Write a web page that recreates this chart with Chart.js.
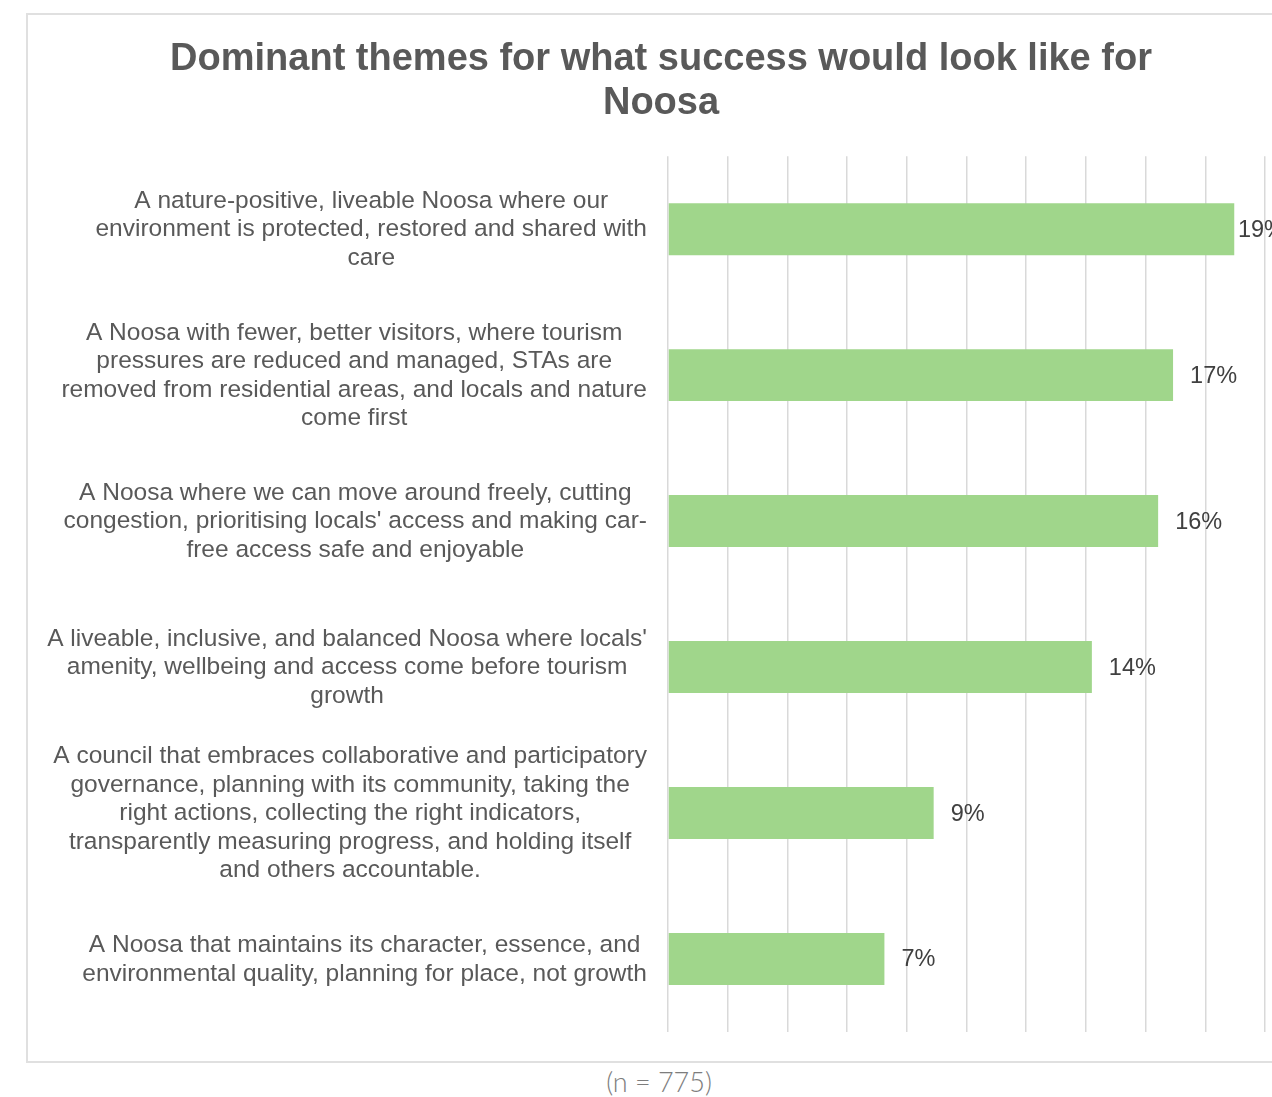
<!DOCTYPE html>
<html>
<head>
<meta charset="utf-8">
<script src="https://cdn.jsdelivr.net/npm/chart.js@4.4.0/dist/chart.umd.min.js"></script>
<style>
    html, body {
        margin: 0;
        padding: 0;
        background: #ffffff;
        overflow: hidden;
        width: 1272px;
        height: 1097px;
    }
    .box {
        position: absolute;
        left: 26px;
        top: 13px;
        width: 1270px;
        height: 1050px;
        border: 2px solid #e0e0e0;
        box-sizing: border-box;
    }
    .box canvas {
        position: absolute;
        left: 0;
        top: 0;
    }
    .note {
        position: absolute;
        left: 0;
        width: 1318px;
        top: 1065px;
        text-align: center;
        font-family: Lato, "Open Sans", sans-serif;
        font-weight: 300;
        font-size: 27px;
        color: #7d7d7d;
    }
</style>
</head>
<body>
<div class="box">
    <canvas class="chart" width="1266" height="1046"></canvas>
</div>
<div class="note">(n = 775)</div>

<script>
const themes = [
    ["A nature-positive, liveable Noosa where our", "environment is protected, restored and shared with", "care"],
    ["A Noosa with fewer, better visitors, where tourism", "pressures are reduced and managed, STAs are", "removed from residential areas, and locals and nature", "come first"],
    ["A Noosa where we can move around freely, cutting", "congestion, prioritising locals' access and making car-", "free access safe and enjoyable"],
    ["A liveable, inclusive, and balanced Noosa where locals'", "amenity, wellbeing and access come before tourism", "growth"],
    ["A council that embraces collaborative and participatory", "governance, planning with its community, taking the", "right actions, collecting the right indicators,", "transparently measuring progress, and holding itself", "and others accountable."],
    ["A Noosa that maintains its character, essence, and", "environmental quality, planning for place, not growth"]
];
const shares = [18.97, 16.92, 16.42, 14.2, 8.9, 7.25];
const axisMax = 20;
const axisStep = 2;

const labelFont = '24.5px "Liberation Sans", Arial, sans-serif';
const valueFont = '23.5px "Liberation Sans", Arial, sans-serif';

// category labels: block right-aligned against the plot, lines centred inside the block
const themeLabels = {
    id: 'themeLabels',
    afterDraw(chart) {
        const ctx = chart.ctx;
        const yScale = chart.scales.y;
        const right = chart.chartArea.left - 21;
        ctx.save();
        ctx.font = labelFont;
        ctx.fillStyle = '#595959';
        ctx.textAlign = 'center';
        ctx.textBaseline = 'middle';
        themes.forEach((lines, i) => {
            const y = yScale.getPixelForValue(i) + 0.5;
            let maxW = 0;
            lines.forEach(l => { maxW = Math.max(maxW, ctx.measureText(l).width); });
            const cx = right - maxW / 2;
            lines.forEach((l, j) => {
                ctx.fillText(l, cx, y + (j - (lines.length - 1) / 2) * 28.5);
            });
        });
        ctx.restore();
    }
};

// percentage next to each bar
const valueLabels = {
    id: 'valueLabels',
    afterDatasetsDraw(chart) {
        const ctx = chart.ctx;
        const meta = chart.getDatasetMeta(0);
        ctx.save();
        ctx.font = valueFont;
        ctx.fillStyle = '#404040';
        ctx.textAlign = 'left';
        ctx.textBaseline = 'middle';
        meta.data.forEach((bar, i) => {
            const text = Math.round(shares[i]) + '%';
            const w = ctx.measureText(text).width;
            const x = Math.min(bar.x + 17, chart.chartArea.right + 20 - w);
            ctx.fillText(text, x, bar.y + 1);
        });
        ctx.restore();
    }
};

const chart = document.querySelector('.chart');

new Chart(chart, {
    type: 'bar',
    data: {
        labels: themes,
        datasets: [{
            data: shares,
            backgroundColor: '#a0d68b',
            borderWidth: 0,
            barPercentage: 0.356,
            categoryPercentage: 1
        }]
    },
    options: {
        indexAxis: 'y',
        responsive: false,
        animation: false,
        layout: {
            padding: { left: 0, right: 0, top: 0, bottom: 29 }
        },
        plugins: {
            legend: { display: false },
            tooltip: { enabled: false },
            title: {
                display: true,
                text: ['Dominant themes for what success would look like for', 'Noosa'],
                color: '#595959',
                font: { family: '"Liberation Sans", Arial, sans-serif', size: 38, weight: 'bold', lineHeight: 1.16 },
                padding: { top: 22, bottom: 31 }
            }
        },
        scales: {
            x: {
                min: 0,
                max: axisMax,
                ticks: { display: false, stepSize: axisStep },
                grid: { color: '#d9d9d9', lineWidth: 1.5, drawTicks: false },
                border: { display: false },
                afterFit: s => { s.height = 0; }
            },
            y: {
                ticks: { display: false },
                grid: { display: false },
                border: { display: false },
                afterFit: s => { s.width = 640; }
            },
            // empty strip on the right so the plot stops short of the frame
            yRight: {
                type: 'category',
                position: 'right',
                ticks: { display: false },
                grid: { display: false },
                border: { display: false },
                afterFit: s => { s.width = 29; }
            }
        }
    },
    plugins: [themeLabels, valueLabels]
});
</script>
</body>
</html>
